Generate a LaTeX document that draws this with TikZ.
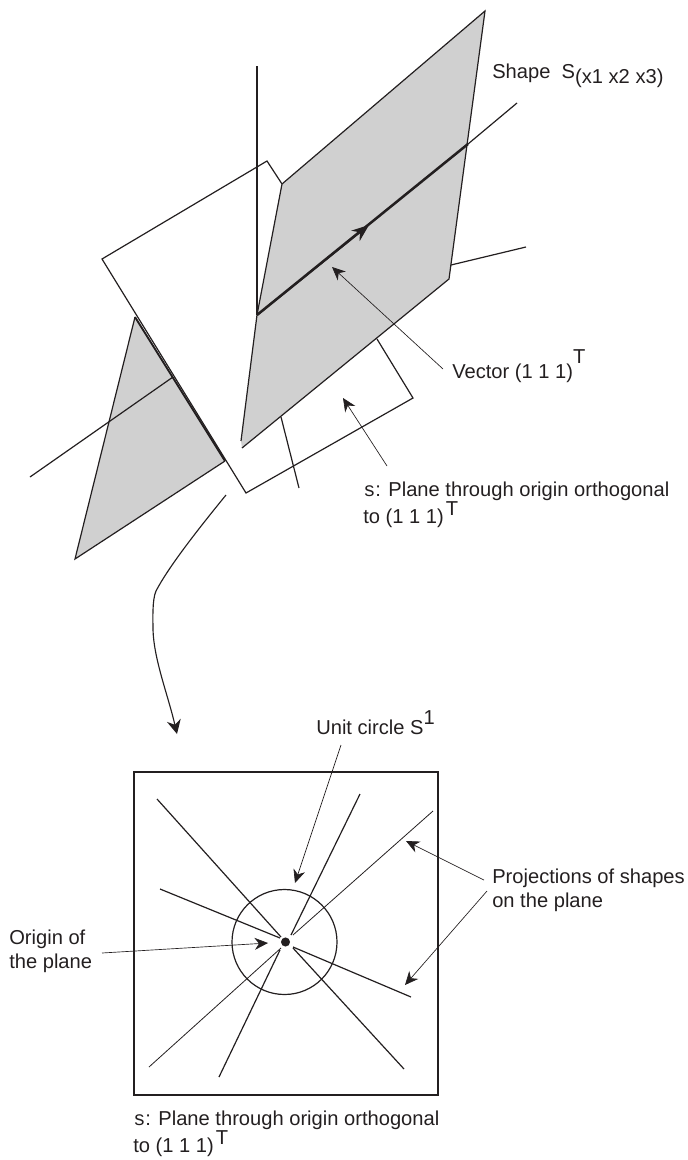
\documentclass[tikz,border=0pt]{standalone}
\usepackage{fontspec}
\setmainfont{Liberation Sans}
\setmonofont{Liberation Mono}
\usepackage{xcolor}
\usepackage{tikz}
\usetikzlibrary{arrows.meta,positioning,calc}
\definecolor{shapegray}{HTML}{D0D0D0}
\definecolor{inkblack}{HTML}{231F20}
\newcommand{\upmark}[2][0.36em]{\raisebox{#1}{#2}}
\newcommand{\downmark}[1]{\raisebox{-0.25em}{#1}}
\begin{document}
\begin{tikzpicture}[
  x=0.75pt, y=-0.75pt,
  border/.style={line width=0.9pt, color=inkblack},
  thinborder/.style={line width=0.6pt, color=inkblack},
  heavy/.style={line width=1.9pt, color=inkblack},
  shaded/.style={fill=shapegray},
  leader/.style={-{Stealth[length=10pt,width=9pt]}, line width=0.5pt, color=inkblack},
  curvearrow/.style={-{Stealth[length=10.5pt,width=10.5pt]}, line width=0.85pt, color=inkblack},
  caption/.style={anchor=base west, inner sep=0pt, font=\fontsize{15.1}{18}\selectfont, text=inkblack},
  twoline/.style={caption, align=left}
]
  \useasboundingbox (0,0) rectangle (688,1160);
  % corners of the upper drawing
  \coordinate (topright) at (485,11);
  \coordinate (topleft) at (282,184);
  \coordinate (midleft) at (257,315);
  \coordinate (lowleft) at (241,441);
  \coordinate (lowedge) at (242,448);
  \coordinate (lowright) at (449,279);
  \coordinate (planeleft) at (102,259);
  \coordinate (planetop) at (267,161);
  \coordinate (planebottom) at (246,493);
  \coordinate (planeright) at (413,398);
  \coordinate (planeinner) at (377,339);
  \coordinate (wedgetop) at (135,317);
  \coordinate (wedgebottom) at (75,559);
  \coordinate (wedgeright) at (225,461);
  % shaded shapes
  \fill[shaded] (topright) -- (topleft) -- (midleft) -- (lowleft) -- (lowedge) -- (lowright) -- cycle;
  \fill[shaded] (wedgetop) -- (wedgebottom) -- (wedgeright) -- cycle;
  \draw[border] (lowedge) -- (lowright) -- (topright) -- (topleft) -- (midleft) -- (lowleft);
  \draw[border] (wedgeright) -- (wedgebottom) -- (wedgetop);
  \draw[border] (topleft) -- (planetop) -- (planeleft) -- (planebottom) -- (planeright) -- (planeinner);
  \draw[line width=1.4pt, color=inkblack] (wedgetop) -- (wedgeright);
  % axis lines
  \coordinate (axistop) at (257,66);
  \coordinate (vecend) at (468,144);
  \coordinate (vecfree) at (517,103);
  \coordinate (vectip) at (369,225);
  \draw[border] (axistop) -- (midleft);
  \draw[border] (vecend) -- (vecfree);
  \draw[heavy] (midleft) -- (vecend);
  \draw[-{Stealth[length=13pt,width=10pt]}, line width=1.2pt, color=inkblack] (midleft) -- (vectip);
  \coordinate (sidea) at (451,265);
  \coordinate (sideb) at (526,247);
  \draw[border] (sidea) -- (sideb);
  \coordinate (stuba) at (281,417);
  \coordinate (stubb) at (299,488);
  \draw[border] (stuba) -- (stubb);
  \coordinate (crossa) at (30,477);
  \coordinate (crossb) at (173,377);
  \draw[border] (crossa) -- (crossb);
  % labels of the upper drawing
  \node[caption] (shapelabel) at (492,78) {Shape\ \ S\downmark{(x1 x2 x3)}};
  \node[caption] (veclabel) at (452,378) {Vector (1 1 1)\upmark[0.72em]{T}};
  \node[twoline] (planelabel) at (363,523) {{\ttfamily s}: Plane through origin orthogonal\\to (1 1 1)\kern1.5pt\upmark{T}};
  \coordinate (vecfrom) at (443,369);
  \coordinate (vecto) at (332,267);
  \coordinate (planefrom) at (387,466);
  \coordinate (planeto) at (343,398);
  \draw[leader] (vecfrom) -- (vecto);
  \draw[leader] (planefrom) -- (planeto);
  % curved arrow down to the plane
  \coordinate (bendstart) at (226,495);
  \coordinate (bendend) at (177,734);
  \draw[curvearrow] (bendstart) .. controls (195,533) and (168,568) .. (156,591) .. controls (152,600) and (153,620) .. (153,630) .. controls (154,660) and (168,695) .. (bendend);
  % lower drawing
  \coordinate (boxnw) at (134,772);
  \coordinate (boxse) at (438,1095);
  \draw[border] (boxnw) rectangle (boxse);
  \node[draw=inkblack, line width=0.9pt, circle, minimum size=78.75pt, inner sep=0pt] (unitcircle) at (284.5,942) {};
  \node[fill=inkblack, circle, minimum size=6.8pt, inner sep=0pt] (origin) at (285.5,942) {};
  \draw[border] (157,799) coordinate (raya) -- (281,937) coordinate (rayb);
  \draw[border] (293,948) coordinate (rayc) -- (404,1069) coordinate (rayd);
  \draw[border] (360,794) coordinate (raye) -- (291,935) coordinate (rayf);
  \draw[border] (280,950) coordinate (rayg) -- (219,1077) coordinate (rayh);
  \draw[thinborder] (433,811) coordinate (rayi) -- (293,935) coordinate (rayj);
  \draw[thinborder] (281,948) coordinate (rayk) -- (149,1067) coordinate (rayl);
  \draw[border] (160,889) coordinate (raym) -- (280,938) coordinate (rayn);
  \draw[border] (293,947) coordinate (rayo) -- (411,997) coordinate (rayp);
  % labels of the lower drawing
  \node[caption] (circlelabel) at (316,734) {Unit circle S\upmark[0.45em]{1}};
  \node[twoline] (projlabel) at (492,907) {Projections of shapes\\on the plane};
  \node[twoline] (originlabel) at (9,968) {Origin of\\the plane};
  \node[twoline] (lowerlabel) at (133,1152) {{\ttfamily s}: Plane through origin orthogonal\\to (1 1 1)\kern1.5pt\upmark{T}};
  \coordinate (circlefrom) at (341,745);
  \coordinate (circleto) at (295,883);
  \coordinate (projfroma) at (484,880);
  \coordinate (projtoa) at (406,841);
  \coordinate (projfromb) at (487,891);
  \coordinate (projtob) at (405,985);
  \coordinate (originfrom) at (102,953);
  \coordinate (originto) at (268,943);
  \draw[leader] (circlefrom) -- (circleto);
  \draw[leader] (projfroma) -- (projtoa);
  \draw[leader] (projfromb) -- (projtob);
  \draw[leader] (originfrom) -- (originto);
\end{tikzpicture}
\end{document}
